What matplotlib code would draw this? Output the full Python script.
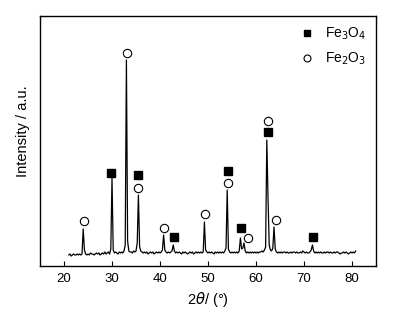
import matplotlib.pyplot as plt
from matplotlib.lines import Line2D
import numpy as np

plt.rcParams['font.family'] = ['Liberation Sans', 'DejaVu Sans']

# XRD trace, 2theta from 21.0 to 80.75 in 0.25 steps
two_theta = np.arange(21.0, 81.0, 0.25)
intensity = [
    -2, -1, -3, -2,   # 21
    -1, -2, -2, -1,   # 22
    -2, -1, -2, -1,   # 23
    24, 3, -1, -2,    # 24
    -1, -2, 0, -1,    # 25
    -1, -2, -1, 0,    # 26
    -1, 0, -2, -1,    # 27
    0, -1, 1, -1,     # 28
    0, 1, -1, 4,      # 29
    75, 3, 0, 1,      # 30
    0, -1, 1, 0,      # 31
    1, 0, 2, 8,       # 32
    193, 12, 2, 1,    # 33
    1, 0, 2, 1,       # 34
    2, 10, 58, 6,     # 35
    2, 1, 0, 1,       # 36
    0, 1, -1, 0,      # 37
    1, 0, 1, -1,      # 38
    0, 1, 0, 1,       # 39
    0, 1, 3, 18,      # 40
    3, 1, 0, 1,       # 41
    0, 1, 2, 8,       # 42
    2, 0, 1, 0,       # 43
    1, 0, -1, 1,      # 44
    0, 1, 0, -1,      # 45
    0, 1, 0, 1,       # 46
    -1, 0, 1, 0,      # 47
    1, 0, 1, 0,       # 48
    1, 31, 3, 1,      # 49
    0, 1, 0, 1,       # 50
    0, -1, 1, 0,      # 51
    1, 0, 1, 0,       # 52
    1, 0, 2, 5,       # 53
    63, 4, 1, 0,      # 54
    1, 0, 1, 0,       # 55
    1, 0, 2, 15,      # 56
    4, 5, 10, 2,      # 57
    0, 1, 0, 1,       # 58
    0, 1, 0, 1,       # 59
    0, 1, 0, 1,       # 60
    1, 2, 1, 3,       # 61
    6, 113, 55, 8,    # 62
    3, 2, 5, 26,      # 63
    4, 1, 0, 1,       # 64
    0, 1, 0, 1,       # 65
    1, 0, 1, 0,       # 66
    0, 1, 0, 1,       # 67
    1, 0, 1, 0,       # 68
    0, 1, 0, 2,       # 69
    1, 0, 1, 0,       # 70
    0, 1, 3, 8,       # 71
    2, 0, 1, 0,       # 72
    1, 0, 1, 0,       # 73
    0, 1, 0, 1,       # 74
    1, 0, 1, 0,       # 75
    0, 1, 0, 1,       # 76
    1, 0, -1, 0,      # 77
    0, 1, 0, 1,       # 78
    0, -1, 0, 1,      # 79
    0, 1, 0, 2,       # 80
]

# phase markers
fe3o4_x = [29.85, 35.5, 42.9, 54.2, 56.9, 62.6, 71.85]
fe3o4_y = [80, 78, 16, 82, 25, 121, 16]
fe2o3_x = [24.2, 33.1, 35.4, 40.8, 49.4, 54.1, 58.3, 62.4, 64.1]
fe2o3_y = [32, 200, 65, 25, 39, 70, 15, 132, 33]

fig = plt.figure(figsize=(3.93, 3.14), dpi=100)
ax = fig.add_axes([0.1018, 0.1529, 0.855, 0.796])

ax.plot(two_theta, intensity, color='black', lw=0.9)
ax.plot(fe3o4_x, fe3o4_y, 's', color='black', ms=5.5, ls='none')
ax.plot(fe2o3_x, fe2o3_y, 'o', mfc='white', mec='black', mew=0.8, ms=6, ls='none')

ax.set_xlim(15, 85)
ax.set_ylim(-13, 237)
ax.set_xticks([20, 30, 40, 50, 60, 70, 80])
ax.set_yticks([])
ax.tick_params(axis='x', direction='in', length=3.5, labelsize=9.5, pad=5)
for s in ax.spines.values():
    s.set_linewidth(1.0)

ax.set_xlabel(r'2$\it{\theta}$/ (°)', fontsize=10.5, labelpad=4)
ax.set_ylabel('Intensity / a.u.', fontsize=10.5)
ax.yaxis.set_label_coords(-0.03, 0.54)

handles = [
    Line2D([], [], marker='s', color='black', ms=4.5, ls='none'),
    Line2D([], [], marker='o', mfc='white', mec='black', mew=0.8, ms=5, ls='none'),
]
ax.legend(handles, ['Fe$_3$O$_4$', 'Fe$_2$O$_3$'], loc='upper right',
          bbox_to_anchor=(1.0, 1.0), frameon=False, fontsize=10,
          handlelength=1.0, handletextpad=0.8, labelspacing=0.6,
          borderaxespad=0.3)

fig.savefig('out.png', dpi=100)
